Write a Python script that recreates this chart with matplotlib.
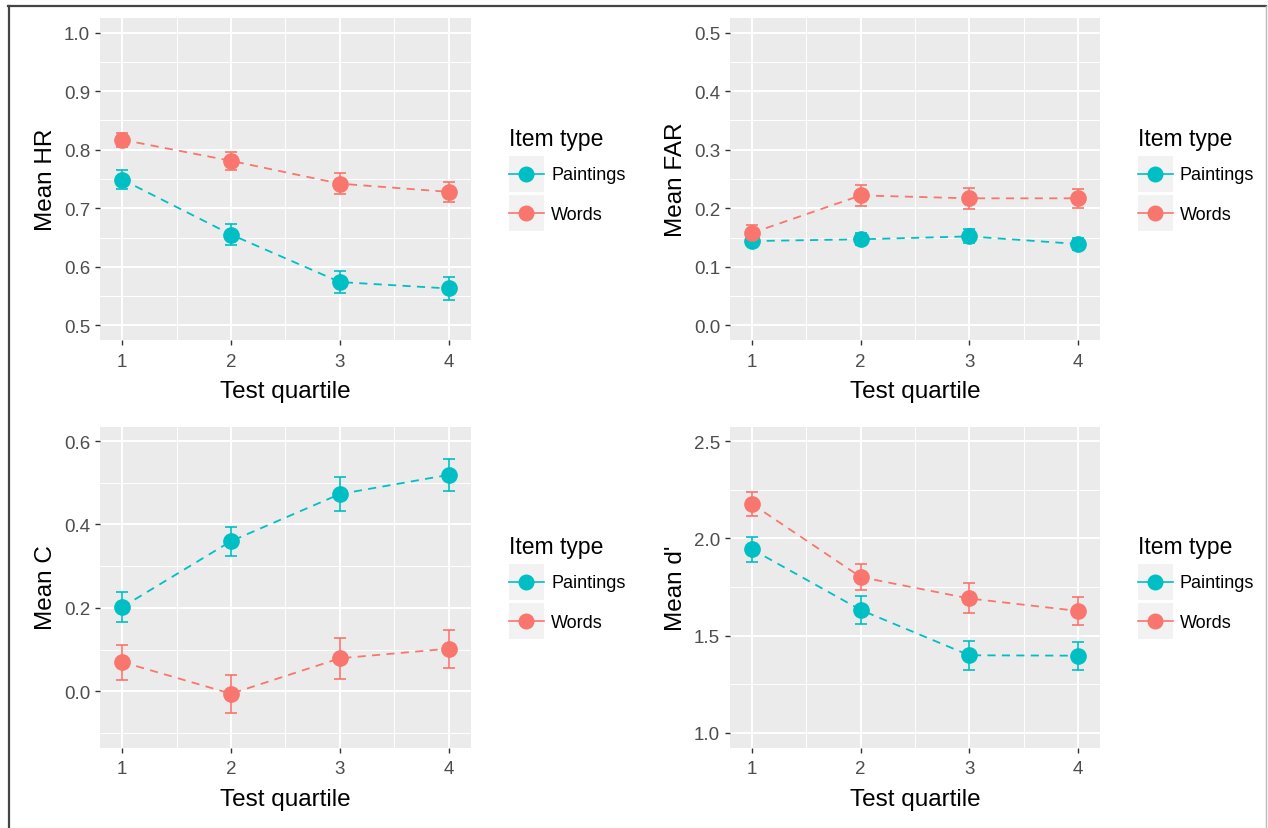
import numpy as np
import matplotlib
matplotlib.use("Agg")
import matplotlib.pyplot as plt
from matplotlib.lines import Line2D
from matplotlib.patches import Rectangle
from matplotlib.legend_handler import HandlerLine2D
from matplotlib.ticker import MultipleLocator

plt.rcParams['font.family'] = ['Liberation Sans', 'DejaVu Sans']

# Data (mean +/- error)
quartile = [1, 2, 3, 4]
groups = ['Paintings', 'Words']
colors = {'Paintings': '#00BFC4', 'Words': '#F8766D'}

hr_paint = [0.749, 0.655, 0.574, 0.563]
hr_paint_err = [0.016, 0.018, 0.019, 0.020]
hr_words = [0.817, 0.781, 0.742, 0.728]
hr_words_err = [0.012, 0.015, 0.018, 0.017]

far_paint = [0.144, 0.147, 0.152, 0.139]
far_paint_err = [0.009, 0.010, 0.012, 0.010]
far_words = [0.158, 0.222, 0.217, 0.217]
far_words_err = [0.013, 0.018, 0.018, 0.016]

c_paint = [0.202, 0.360, 0.473, 0.519]
c_paint_err = [0.035, 0.035, 0.040, 0.039]
c_words = [0.070, -0.006, 0.079, 0.102]
c_words_err = [0.042, 0.046, 0.049, 0.046]

d_paint = [1.943, 1.632, 1.399, 1.397]
d_paint_err = [0.066, 0.072, 0.075, 0.072]
d_words = [2.176, 1.801, 1.691, 1.627]
d_words_err = [0.062, 0.066, 0.077, 0.071]


class KeyHandler(HandlerLine2D):
    # ggplot-style legend key: grey square, line + point centred in it
    def create_artists(self, legend, orig_handle, xdescent, ydescent,
                       width, height, fontsize, trans):
        bg = Rectangle((-xdescent, -ydescent), width, height,
                       facecolor='#F2F2F2', edgecolor='none', transform=trans)
        arts = super().create_artists(legend, orig_handle, xdescent, 2 * ydescent,
                                      width, height, fontsize, trans)
        return [bg] + list(arts)


def panel(ax, paint, paint_err, words, words_err, ylabel, ylim, major, minor):
    ax.set_facecolor('#EBEBEB')
    for sp in ax.spines.values():
        sp.set_visible(False)
    ax.set_axisbelow(True)
    ax.yaxis.set_major_locator(MultipleLocator(major))
    ax.yaxis.set_minor_locator(MultipleLocator(minor))
    ax.xaxis.set_major_locator(MultipleLocator(1))
    ax.xaxis.set_minor_locator(MultipleLocator(0.5))
    ax.grid(which='major', color='white', lw=1.4)
    ax.grid(which='minor', color='white', lw=0.7)
    ax.tick_params(which='major', length=3.6, width=1.0, color='#333333',
                   labelcolor='#4D4D4D', labelsize=13.5, pad=3.5)
    ax.tick_params(axis='x', pad=5.5)
    ax.tick_params(which='minor', length=0)

    for name, y, e in [('Paintings', paint, paint_err), ('Words', words, words_err)]:
        col = colors[name]
        ax.plot(quartile, y, color=col, lw=1.3, ls=(0, (4.5, 3.5)), zorder=2)
        ax.errorbar(quartile, y, yerr=e, fmt='none', ecolor=col, elinewidth=1.2,
                    capsize=4, capthick=1.2, zorder=3)
        ax.plot(quartile, y, 'o', color=col, markersize=11, zorder=4)

    lo, hi = ylim
    pad = (hi - lo) * 0.05
    ax.set_ylim(lo - pad, hi + pad)
    ax.set_xlim(0.795, 4.205)
    yt = np.arange(lo, hi + major / 2, major)
    ax.set_yticks(yt)
    ax.set_yticklabels(['%.1f' % v for v in yt])
    ax.set_xticks(quartile)

    ax.set_xlabel('Test quartile', fontsize=17.5, va='top')
    ax.xaxis.set_label_coords(0.5, -0.125)
    ax.set_ylabel(ylabel, fontsize=17.5)
    ax.yaxis.set_label_coords(-0.115, 0.5)

    handles = [Line2D([], [], color=colors[g], lw=1.2, marker='o', markersize=10.5)
               for g in groups]
    leg = ax.legend(handles, groups, title='Item type', loc='center left',
                    bbox_to_anchor=(1.102, 0.5), frameon=False, borderpad=0,
                    borderaxespad=0, fontsize=13, title_fontsize=16.5,
                    handlelength=1.94, handleheight=2.7, labelspacing=0.17,
                    handletextpad=0.4, alignment='left', numpoints=1,
                    handler_map={Line2D: KeyHandler()})
    leg.get_title().set_color('black')
    leg._legend_box.sep = 4.4  # a bit more room under the title


fig = plt.figure(figsize=(12.68, 8.29), dpi=100)
W, H = 1268.0, 829.0
ax1 = fig.add_axes([100 / W, 1 - 341 / H, 371 / W, 322 / H])
ax2 = fig.add_axes([730 / W, 1 - 341 / H, 370 / W, 322 / H])
ax3 = fig.add_axes([100 / W, 1 - 748.5 / H, 371 / W, 321 / H])
ax4 = fig.add_axes([730 / W, 1 - 748.5 / H, 370 / W, 321 / H])

panel(ax1, hr_paint, hr_paint_err, hr_words, hr_words_err, 'Mean HR', (0.5, 1.0), 0.1, 0.05)
panel(ax2, far_paint, far_paint_err, far_words, far_words_err, 'Mean FAR', (0.0, 0.5), 0.1, 0.05)
panel(ax3, c_paint, c_paint_err, c_words, c_words_err, 'Mean C', (-0.1, 0.6), 0.2, 0.1)
ax3.set_yticks([0.0, 0.2, 0.4, 0.6])
ax3.set_yticklabels(['0.0', '0.2', '0.4', '0.6'])
panel(ax4, d_paint, d_paint_err, d_words, d_words_err, "Mean d'", (1.0, 2.5), 0.5, 0.25)

# screenshot frame
fig.add_artist(Line2D([8 / W, 1266 / W], [1 - 7 / H, 1 - 7 / H], color='#444444', lw=1.6))
fig.add_artist(Line2D([9 / W, 9 / W], [0, 1 - 7 / H], color='#444444', lw=1.6))
fig.add_artist(Line2D([1266 / W, 1266 / W], [0, 1 - 7 / H], color='#BBBBBB', lw=1.0))

fig.savefig('out.png', dpi=100)
